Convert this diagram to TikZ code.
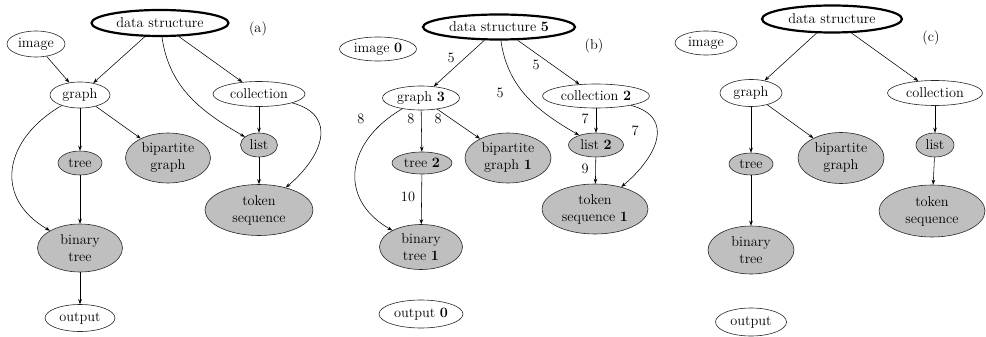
\documentclass[tikz,border=0pt]{standalone}
\usepackage{fontspec}
\usetikzlibrary{shapes.geometric,arrows.meta}
\tikzset{
  every node/.style={font=\fontsize{14.3pt}{17pt}\selectfont},
  ell/.style={ellipse, draw=black!85, line width=0.6pt, inner sep=0pt, align=center},
  plain/.style={ell, fill=white},
  shaded/.style={ell, fill=lightgray},
  root/.style={ell, fill=white, line width=2.2pt, draw=black},
  sz/.style 2 args={minimum width=#1pt, minimum height=#2pt},
  arr/.style={line width=0.55pt, -{Stealth[length=5pt,width=3.6pt]}},
  lbl/.style={inner sep=0pt},
}
\begin{document}
\begin{tikzpicture}[x=1pt,y=1pt]
\useasboundingbox (0,0) rectangle (986,-337);

% ---------- (a) ----------
\node[root,sz={137}{26}]   (dsA)    at (160,-23)  {data structure};
\node[plain,sz={58}{26}]   (imgA)   at (36,-44)   {image};
\node[plain,sz={60}{26}]   (graphA) at (80,-95)   {graph};
\node[plain,sz={92}{25}]   (collA)  at (259,-94)  {collection};
\node[shaded,sz={44}{24}]  (treeA)  at (80,-163)  {tree};
\node[shaded,sz={85}{50}]  (bipA)   at (168,-158) {bipartite\\graph};
\node[shaded,sz={37}{24}]  (listA)  at (259,-145) {list};
\node[shaded,sz={108}{51}] (tokA)   at (259,-210) {token\\sequence};
\node[shaded,sz={85}{48}]  (binA)   at (80,-248)  {binary\\tree};
\node[plain,sz={70}{27}]   (outA)   at (80,-318)  {output};
\node[lbl] (capA) at (258,-29) {(a)};

\draw[arr] (imgA) -- (graphA);
\draw[arr] (dsA) -- (graphA);
\draw[arr] (dsA) -- (collA);
\draw[arr] (dsA) to[out=-82,in=150] (listA);
\draw[arr] (graphA) -- (treeA);
\draw[arr] (graphA) -- (bipA);
\draw[arr] (graphA) to[out=-150,in=150,looseness=1.35] (binA);
\draw[arr] (collA) -- (listA);
\draw[arr] (collA) to[out=-15,in=40,looseness=1.45] (tokA);
\draw[arr] (listA) -- (tokA);
\draw[arr] (treeA) -- (binA);
\draw[arr] (binA) -- (outA);

% ---------- (b) ----------
\node[root,sz={152}{25}]   (dsB)    at (499,-27)  {data structure \textbf{5}};
\node[plain,sz={77}{24}]   (imgB)   at (378,-49)  {image \textbf{0}};
\node[plain,sz={77}{24}]   (graphB) at (421,-98)  {graph \textbf{3}};
\node[plain,sz={107}{24}]  (collB)  at (596,-96)  {collection \textbf{2}};
\node[shaded,sz={60}{22}]  (treeB)  at (422,-163) {tree \textbf{2}};
\node[shaded,sz={86}{50}]  (bipB)   at (508,-158) {bipartite\\graph \textbf{1}};
\node[shaded,sz={55}{24}]  (listB)  at (596,-145) {list \textbf{2}};
\node[shaded,sz={106}{50}] (tokB)   at (595,-209) {token\\sequence \textbf{1}};
\node[shaded,sz={83}{45}]  (binB)   at (421,-247) {binary\\tree \textbf{1}};
\node[plain,sz={84}{28}]   (outB)   at (421,-314) {output \textbf{0}};
\node[lbl] (capB) at (594,-46) {(b)};

\draw[arr] (dsB) -- (graphB);
\draw[arr] (dsB) -- (collB);
\draw[arr] (dsB) to[out=-82,in=150] (listB);
\draw[arr] (graphB) -- (treeB);
\draw[arr] (graphB) -- (bipB);
\draw[arr] (graphB) to[out=-150,in=150,looseness=1.35] (binB);
\draw[arr] (collB) -- (listB);
\draw[arr] (collB) to[out=-15,in=40,looseness=1.45] (tokB);
\draw[arr] (listB) -- (tokB);
\draw[arr] (treeB) -- (binB);

% edge weights
\node[lbl] (w1)  at (451,-58)  {5};
\node[lbl] (w2)  at (536,-65)  {5};
\node[lbl] (w3)  at (500,-93)  {5};
\node[lbl] (w4)  at (361,-119) {8};
\node[lbl] (w5)  at (411,-119) {8};
\node[lbl] (w6)  at (438,-119) {8};
\node[lbl] (w7)  at (585,-119) {7};
\node[lbl] (w8)  at (635,-131) {7};
\node[lbl] (w9)  at (585,-169) {9};
\node[lbl] (w10) at (408,-197) {10};

% ---------- (c) ----------
\node[root,sz={140}{27}]   (dsC)    at (832,-19)  {data structure};
\node[plain,sz={62}{24}]   (imgC)   at (706,-43)  {image};
\node[plain,sz={62}{27}]   (graphC) at (751,-93)  {graph};
\node[plain,sz={95}{25}]   (collC)  at (935,-93)  {collection};
\node[shaded,sz={38}{24}]  (listC)  at (935,-145) {list};
\node[shaded,sz={44}{22}]  (treeC)  at (751,-164) {tree};
\node[shaded,sz={86}{51}]  (bipC)   at (841,-158) {bipartite\\graph};
\node[shaded,sz={106}{52}] (tokC)   at (932,-211) {token\\sequence};
\node[shaded,sz={86}{48}]  (binC)   at (751,-250) {binary\\tree};
\node[plain,sz={71}{28}]   (outC)   at (751,-322) {output};
\node[lbl] (capC) at (931,-38) {(c)};

\draw[arr] (dsC) -- (graphC);
\draw[arr] (dsC) -- (collC);
\draw[arr] (graphC) -- (treeC);
\draw[arr] (graphC) -- (bipC);
\draw[arr] (collC) -- (listC);
\draw[arr] (listC) -- (tokC);
\draw[arr] (treeC) -- (binC);
\end{tikzpicture}
\end{document}
